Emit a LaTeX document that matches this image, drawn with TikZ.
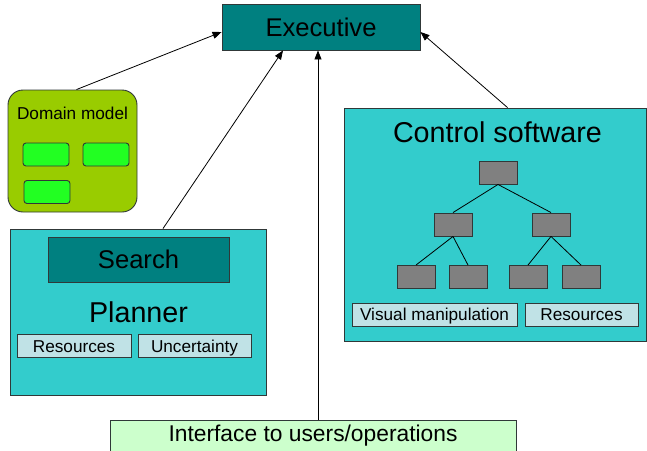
\documentclass[tikz,border=0pt]{standalone}
\usepackage{fontspec}
\setmainfont{Liberation Sans}
\usetikzlibrary{arrows.meta}
\definecolor{tealdark}{HTML}{008080}
\definecolor{cyanbox}{HTML}{33CCCC}
\definecolor{paleblue}{HTML}{C0E2E6}
\definecolor{olivegreen}{HTML}{99CC00}
\definecolor{brightgreen}{HTML}{22FF22}
\definecolor{palegreen}{HTML}{CCFFCC}
\definecolor{edge}{HTML}{303838}
\tikzset{
  frame/.style={draw=edge, line width=0.9pt, inner sep=0pt, anchor=center},
  bigbox/.style={frame, fill=cyanbox},
  tealbox/.style={frame, fill=tealdark},
  tag/.style={frame, fill=paleblue, minimum height=23pt, text height=12.3pt, text depth=-0.5pt,
              font=\fontsize{17.2}{20}\selectfont},
  leaf/.style={frame, fill=black!50, minimum width=38pt, minimum height=23pt},
  chip/.style={frame, fill=brightgreen, rounded corners=3pt, minimum width=46pt, minimum height=23pt},
  link/.style={draw=black, line width=0.8pt},
  arrow/.style={link, -{Triangle[length=9pt,width=7pt]}},
}
\begin{document}
\begin{tikzpicture}[x=1pt, y=-1pt]
\useasboundingbox (0,0) rectangle (647,450);

% central executive
\node[tealbox, minimum width=198pt, minimum height=46pt,
      font=\fontsize{25.6}{30}\selectfont] (exec) at (321,27) {Executive};

% domain model with its components
\node[frame, fill=olivegreen, rounded corners=15pt,
      minimum width=129pt, minimum height=122pt] (dm) at (72.5,151) {};
\node[font=\fontsize{17.2}{20}\selectfont] (dmlabel) at (72.5,113) {Domain model};
\node[chip] (c1) at (46,154.5) {};
\node[chip] (c2) at (106,154.5) {};
\node[chip] (c3) at (47,192) {};

% planner
\node[bigbox, minimum width=256pt, minimum height=166pt] (plan) at (138,312) {};
\node[tealbox, minimum width=181pt, minimum height=45pt,
      font=\fontsize{25.6}{30}\selectfont] (search) at (138.5,259.5) {Search};
\node[font=\fontsize{28.7}{32}\selectfont, inner sep=0pt] (plabel) at (138.5,312) {Planner};
\node[tag, minimum width=114pt] (pres) at (74,346) {Resources};
\node[tag, minimum width=113pt] (punc) at (194.5,346) {Uncertainty};

% control software with its hierarchy
\node[bigbox, minimum width=302pt, minimum height=233pt] (ctrl) at (495,224.5) {};
\node[font=\fontsize{28.7}{32}\selectfont, inner sep=0pt] (clabel) at (497.5,132) {Control software};
\node[leaf] (r)   at (498,172.5) {};
\node[leaf] (l1)  at (453,224.5) {};
\node[leaf] (l2)  at (551,224.5) {};
\node[leaf] (m1)  at (416,277) {};
\node[leaf] (m2)  at (468,277) {};
\node[leaf] (m3)  at (528,277) {};
\node[leaf] (m4)  at (581,277) {};
\draw[link] (r.south) -- (l1.north);
\draw[link] (r.south) -- (l2.north);
\draw[link] (l1.south) -- (m1.north);
\draw[link] (l1.south) -- (m2.north);
\draw[link] (l2.south) -- (m3.north);
\draw[link] (l2.south) -- (m4.north);
\node[tag, minimum width=165pt] (cvis) at (434.5,314.5) {Visual manipulation};
\node[tag, minimum width=113pt] (cres) at (581.5,314.5) {Resources};

% user interface strip
\node[frame, fill=palegreen, minimum width=406pt, minimum height=32pt] (iface) at (313,436) {};
\node[font=\fontsize{22.8}{26}\selectfont, inner sep=0pt] (ilabel) at (313,436) {Interface to users/operations};

% connections into the executive
\draw[arrow] ([xshift=4pt]dm.north) -- ([yshift=-5pt]exec.west);
\draw[arrow] ([xshift=25pt]plan.north) -- ([xshift=-38pt]exec.south);
\draw[arrow] ([xshift=5pt]iface.north) -- ([xshift=5pt]iface.north |- exec.south);
\draw[arrow] ([xshift=12.5pt]ctrl.north) -- ([yshift=-5pt]exec.east);
\end{tikzpicture}
\end{document}
